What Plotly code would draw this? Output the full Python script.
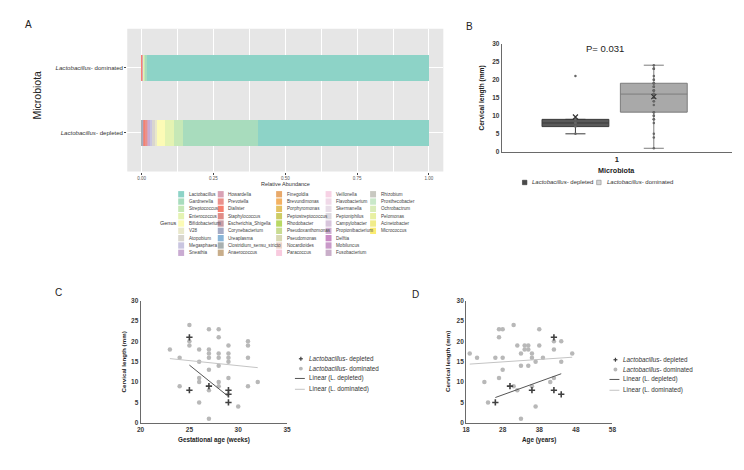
import numpy as np
import plotly.graph_objects as go

W, H = 744, 470
FONT = "Liberation Sans, Arial, sans-serif"

# ---------------- panel A data ----------------
genera = [
    "Lactobacillus", "Gardnerella", "Streptococcus", "Enterococcus", "Bifidobacterium",
    "V28", "Atopobium", "Megasphaera", "Sneathia",
    "Howardella", "Prevotella", "Dialister", "Staphylococcus", "Escherichia_Shigella",
    "Corynebacterium", "Ureaplasma", "Clostridium_sensu_stricto", "Anaerococcus",
    "Finegoldia", "Brevundimonas", "Porphyromonas", "Peptostreptococcus", "Rhodobacter",
    "Pseudoxanthomonas", "Pseudomonas", "Nocardioides", "Paracoccus",
    "Veillonella", "Flavobacterium", "Skermanella", "Peptoniphilus", "Campylobacter",
    "Propionibacterium", "Delftia", "Mobiluncus", "Fusobacterium",
    "Rhizobium", "Prosthecobacter", "Ochrobactrum", "Pelomonas", "Acinetobacter", "Micrococcus",
]
genus_colors = [
    "#8dd3c7", "#a8dcbd", "#c6e8b6", "#e4f3b2", "#fcfbb6", "#e9e8cb", "#d9d6cf", "#c9c5e0", "#c9abd2",
    "#d9a2b5", "#ea918c", "#f7806f", "#e08c86", "#c79ca6", "#a5abc5", "#89b5d8", "#a8b0b0", "#c8ad8a",
    "#e8a96a", "#f4b262", "#e4c262", "#cdcc64", "#b9d964", "#c9dc92", "#d8d8b2", "#ecd5c9", "#f8cade",
    "#f7d2e5", "#f0d9e8", "#e8dde8", "#ddd9e0", "#d8c5dc", "#d1aed1", "#c98ac5", "#c99ac9", "#c9aec9",
    "#c8c8c1", "#c9e8c9", "#d9ecb9", "#e8f0a2", "#f1ec8a", "#fcec72",
]
abund_depleted = [
    0.593, 0.261, 0.034, 0.030, 0.027, 0.009, 0.008, 0.008, 0.006,
    0.004, 0.006, 0.003, 0.002, 0.002, 0.002, 0.002, 0.001, 0.001,
    0.001, 0.0, 0.0, 0.0, 0.0, 0.0, 0.0, 0.0, 0.0,
    0.0, 0.0, 0.0, 0.0, 0.0, 0.0, 0.0, 0.0, 0.0,
    0.0, 0.0, 0.0, 0.0, 0.0, 0.0,
]
abund_dominated = [
    0.980, 0.006, 0.004, 0.002, 0.001, 0.0, 0.001, 0.0, 0.0,
    0.001, 0.002, 0.001, 0.0, 0.0, 0.0, 0.001, 0.0, 0.001,
    0.0, 0.0, 0.0, 0.0, 0.0, 0.0, 0.0, 0.0, 0.0,
    0.0, 0.0, 0.0, 0.0, 0.0, 0.0, 0.0, 0.0, 0.0,
    0.0, 0.0, 0.0, 0.0, 0.0, 0.0,
]
groups_a = ["<i>Lactobacillus</i>- depleted", "<i>Lactobacillus</i>- dominated"]
abund_ticks = [0, 0.25, 0.5, 0.75, 1.0]
abund_ticklabels = ["0.00", "0.25", "0.50", "0.75", "1.00"]

# ---------------- panel B data ----------------
cl_box_depleted = [5, 7, 8, 8, 9, 21]
cl_box_dominated = [1, 4, 5, 8, 9, 9, 10, 10, 11, 11, 13, 14, 14, 15, 15, 16, 16, 16, 16, 16,
                    17, 17, 17, 17, 18, 18, 18, 19, 19, 19, 19, 20, 20, 21, 23, 23, 23, 24]

# ---------------- panel C data ----------------
ga_depleted = [25, 25, 27, 29, 29, 29]
cl_depleted_c = [21, 8, 9, 8, 7, 5]
ga_dominated = [23, 24, 24, 25, 25, 25, 26, 26, 26, 26, 26, 27, 27, 27, 27, 27, 27, 27,
                28, 28, 28, 28, 28, 28, 28, 29, 29, 29, 29, 29, 30, 31, 31, 31, 31, 32]
cl_dominated_c = [18, 16, 9, 24, 20, 19, 18, 15, 11, 10, 5, 23, 18, 17, 16, 13, 8, 1,
                  23, 21, 17, 16, 14, 10, 9, 19, 17, 16, 15, 11, 4, 20, 19, 16, 9, 10]

# ---------------- panel D data ----------------
age_depleted = [26, 30, 36, 42, 42, 44]
cl_depleted_d = [5, 9, 8, 21, 8, 7]
age_dominated = [19, 21, 23, 24, 26, 27, 27, 27, 28, 28, 28, 31, 31, 32, 32, 33, 33, 33, 34,
                 34, 35, 35, 35, 36, 36, 36, 37, 37, 38, 38, 39, 41, 42, 42, 42, 44, 44, 47]
cl_dominated_d = [17, 16, 10, 5, 16, 23, 21, 11, 23, 13, 16, 9, 24, 19, 8, 17, 14, 1, 19,
                  18, 19, 18, 14, 17, 16, 9, 15, 4, 23, 19, 16, 10, 11, 18, 20, 20, 15, 17]

DARK = "#404040"
LIGHT = "#b8b8b8"


def fx(x):
    return x / W


def fy(y):
    return 1 - y / H


fig = go.Figure()

# panel A: stacked bars (ggplot stacks first level farthest from zero)
for name, col, dep, dom in reversed(list(zip(genera, genus_colors, abund_depleted, abund_dominated))):
    fig.add_trace(go.Bar(
        y=[1, 2], x=[dep, dom], orientation="h", width=0.4,
        marker=dict(color=col, line=dict(width=0)), name=name,
        showlegend=False, xaxis="x", yaxis="y",
    ))

# panel B: box plots
for vals, pos, fill, edge in [(cl_box_depleted, 0.82, "#5a5a5a", "#3a3a3a"),
                              (cl_box_dominated, 1.16, "#a9a9a9", "#7c7c7c")]:
    fig.add_trace(go.Box(
        y=vals, x0=pos, width=0.29, fillcolor=fill, line=dict(color=edge, width=1),
        whiskerwidth=0.3, boxpoints="all", jitter=0, pointpos=0, quartilemethod="linear",
        marker=dict(color="#666666", size=2.5), showlegend=False, xaxis="x2", yaxis="y2",
    ))
    fig.add_trace(go.Scatter(
        x=[pos], y=[np.mean(vals)], mode="markers",
        marker=dict(symbol="x-thin", size=5, line=dict(color="#333333", width=1.2)),
        showlegend=False, xaxis="x2", yaxis="y2",
    ))


def scatter_panel(xd, yd, xm, ym, xa, ya):
    for xs, ys, marker, lc in [
        (xm, ym, dict(symbol="circle", size=4.5, color=LIGHT), "#c4c4c4"),
        (xd, yd, dict(symbol="cross-thin", size=4.5, line=dict(color=DARK, width=1.6)), "#555555"),
    ]:
        fig.add_trace(go.Scatter(x=xs, y=ys, mode="markers", marker=marker,
                                 showlegend=False, xaxis=xa, yaxis=ya))
        k, b = np.polyfit(xs, ys, 1)
        xl = np.array([min(xs), max(xs)])
        fig.add_trace(go.Scatter(x=xl, y=k * xl + b, mode="lines", line=dict(color=lc, width=1),
                                 showlegend=False, xaxis=xa, yaxis=ya))


scatter_panel(ga_depleted, cl_depleted_c, ga_dominated, cl_dominated_c, "x3", "y3")
scatter_panel(age_depleted, cl_depleted_d, age_dominated, cl_dominated_d, "x4", "y4")

bold_tick = dict(family=FONT, size=6.5, color="#3a3a3a", weight="bold")
line_ax = dict(showline=True, linecolor="#6a6a6a", linewidth=1, showgrid=False, zeroline=False, ticks="")

fig.update_layout(
    width=W, height=H, autosize=False,
    margin=dict(l=0, r=0, t=0, b=0),
    paper_bgcolor="white", plot_bgcolor="rgba(0,0,0,0)",
    barmode="stack", bargap=0,
    font=dict(family=FONT, color="#333333"),
    xaxis=dict(
        domain=[fx(116.5), fx(436)], range=[-0.05, 1.05],
        tickvals=abund_ticks, ticktext=abund_ticklabels,
        tickfont=dict(size=4.5, color="#555555"),
        showgrid=True, gridcolor="white", gridwidth=1, zeroline=False,
        ticks="outside", ticklen=2, tickcolor="#444444", tickwidth=0.6,
        minor=dict(tickvals=[0.125, 0.375, 0.625, 0.875], showgrid=True, gridcolor="white", gridwidth=0.5),
        anchor="y",
    ),
    yaxis=dict(
        domain=[fy(162), fy(17)], range=[0.4, 2.6],
        tickvals=[1, 2], ticktext=groups_a, tickfont=dict(size=6.1, color="#333333"),
        showgrid=True, gridcolor="white", gridwidth=1, zeroline=False,
        ticks="outside", ticklen=2, tickcolor="#444444", tickwidth=0.6,
        anchor="x",
    ),
    xaxis2=dict(domain=[fx(495), fx(728)], range=[0.5, 1.5], tickvals=[1], ticktext=["1"],
                tickfont=dict(family=FONT, size=7.5, color="#222222", weight="bold"), anchor="y2", **line_ax),
    yaxis2=dict(domain=[fy(142), fy(32)], range=[0, 30], dtick=5, tickfont=bold_tick, anchor="x2", **line_ax),
    xaxis3=dict(domain=[fx(130), fx(278)], range=[20, 35], dtick=5, tickfont=bold_tick, anchor="y3", **line_ax),
    yaxis3=dict(domain=[fy(417), fy(293)], range=[0, 30], dtick=5, tickfont=bold_tick, anchor="x3", **line_ax),
    xaxis4=dict(domain=[fx(459), fx(607)], range=[18, 58], tick0=18, dtick=10, tickfont=bold_tick,
                anchor="y4", **line_ax),
    yaxis4=dict(domain=[fy(417), fy(293)], range=[0, 30], dtick=5, tickfont=bold_tick, anchor="x4", **line_ax),
)

shapes = [dict(type="rect", xref="x domain", yref="y domain", x0=0, x1=1, y0=0, y1=1,
               fillcolor="#e6e6e6", line=dict(width=0), layer="below")]
annos = []


def text(x, y, s, size, xanchor="center", yanchor="middle", angle=0, bold=False, color="#333333"):
    annos.append(dict(xref="paper", yref="paper", x=fx(x), y=fy(y), text=s, showarrow=False,
                      xanchor=xanchor, yanchor=yanchor, textangle=angle,
                      font=dict(family=FONT, size=size, color=color, weight="bold" if bold else "normal")))


# panel labels
text(17, 13, "A", 10, color="#222222")
text(462, 15, "B", 10, color="#222222")
text(47, 285, "C", 10, color="#222222")
text(408, 287, "D", 10, color="#222222")

# panel A titles and legend
text(25, 84, "Microbiota", 10.5, angle=-90, color="#222222")
text(276, 174.5, "Relative Abundance", 5.5)
text(157.5, 214.5, "Genus", 5.5)
col_x = [168, 208, 267, 317, 362]
for i, (name, col) in enumerate(zip(genera, genus_colors)):
    c, r = divmod(i, 9)
    yc = 185 + r * 7.43
    shapes.append(dict(type="rect", xref="paper", yref="paper",
                       x0=fx(col_x[c]), x1=fx(col_x[c] + 6), y0=fy(yc + 3.2), y1=fy(yc - 3.2),
                       fillcolor=col, line=dict(width=0)))
    text(col_x[c] + 8.5, yc, name, 4.6, xanchor="left", color="#444444")

# panel B titles and legend
text(599, 37, "P= 0.031", 9.5, color="#222222")
text(475, 87, "Cervical length (mm)", 6.6, angle=-90, bold=True, color="#222222")
text(611, 161, "Microbiota", 7.2, bold=True, color="#222222")
shapes.append(dict(type="rect", xref="paper", yref="paper", x0=fx(516), x1=fx(520.5), y0=fy(175.3),
                   y1=fy(170.8), fillcolor="#4a4a4a", line=dict(color="#333333", width=0.6)))
text(524, 173, "<i>Lactobacillus</i>- depleted", 6, xanchor="left")
shapes.append(dict(type="rect", xref="paper", yref="paper", x0=fx(591), x1=fx(595.5), y0=fy(175.3),
                   y1=fy(170.8), fillcolor="#d6d6d6", line=dict(color="#8a8a8a", width=0.6)))
text(599, 173, "<i>Lactobacillus</i>- dominated", 6, xanchor="left")

# panels C and D titles and legends
for yx, xc, ttl, lx, rows in [(113, 204, "Gestational age (weeks)", 287, [352, 362, 372, 383]),
                              (440, 533, "Age (years)", 605, [353, 363, 373, 384])]:
    text(yx, 355, "Cervical length (mm)", 6.2, angle=-90, bold=True, color="#222222")
    text(xc, 434, ttl, 6.3, bold=True, color="#222222")
    mx = lx + 5
    # depleted marker (cross)
    shapes.append(dict(type="line", xref="paper", yref="paper", x0=fx(mx - 2), x1=fx(mx + 2),
                       y0=fy(rows[0]), y1=fy(rows[0]), line=dict(color=DARK, width=1.2)))
    shapes.append(dict(type="line", xref="paper", yref="paper", x0=fx(mx), x1=fx(mx),
                       y0=fy(rows[0] - 2), y1=fy(rows[0] + 2), line=dict(color=DARK, width=1.2)))
    shapes.append(dict(type="circle", xref="paper", yref="paper", x0=fx(mx - 2), x1=fx(mx + 2),
                       y0=fy(rows[1] + 2), y1=fy(rows[1] - 2), fillcolor=LIGHT, line=dict(width=0)))
    shapes.append(dict(type="line", xref="paper", yref="paper", x0=fx(lx - 1), x1=fx(lx + 9),
                       y0=fy(rows[2]), y1=fy(rows[2]), line=dict(color="#555555", width=1)))
    shapes.append(dict(type="line", xref="paper", yref="paper", x0=fx(lx - 1), x1=fx(lx + 9),
                       y0=fy(rows[3]), y1=fy(rows[3]), line=dict(color="#c4c4c4", width=1)))
    text(lx + 11, rows[0], "<i>Lactobacillus</i>- depleted", 6.3, xanchor="left")
    text(lx + 11, rows[1], "<i>Lactobacillus</i>- dominated", 6.3, xanchor="left")
    text(lx + 11, rows[2], "Linear (L. depleted)", 6.3, xanchor="left")
    text(lx + 11, rows[3], "Linear (L. dominated)", 6.3, xanchor="left")

fig.update_layout(shapes=shapes, annotations=annos)
fig.write_html("out.html")
